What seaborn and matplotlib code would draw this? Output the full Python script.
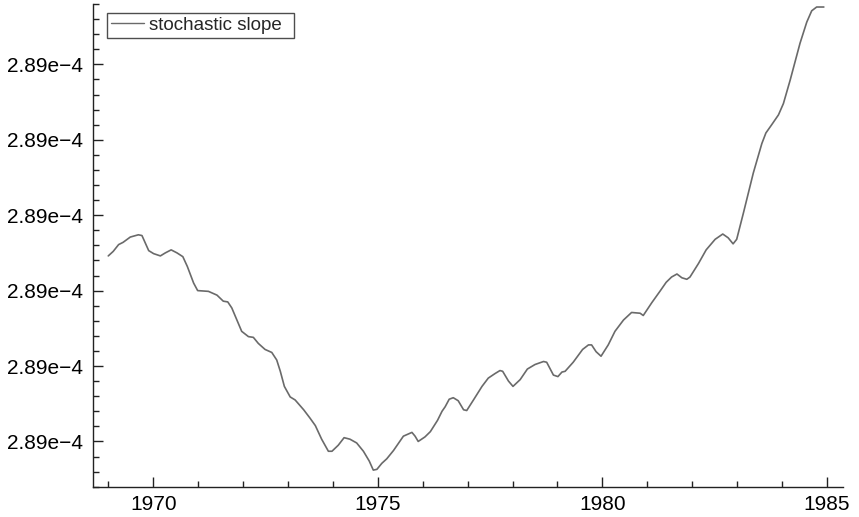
import numpy as np
import pandas as pd
import matplotlib
matplotlib.use("Agg")
import matplotlib.pyplot as plt
from matplotlib.ticker import FixedLocator, AutoMinorLocator, MultipleLocator
import seaborn as sns

years = [1969.00, 1969.11, 1969.23, 1969.33, 1969.49, 1969.67, 1969.75, 1969.90,
         1970.01, 1970.16, 1970.27, 1970.40, 1970.53, 1970.66, 1970.76, 1970.90,
         1970.99, 1971.23, 1971.42, 1971.56, 1971.66, 1971.75, 1971.97, 1972.12,
         1972.23, 1972.34, 1972.49, 1972.64, 1972.75, 1972.83, 1972.92, 1973.05,
         1973.16, 1973.35, 1973.49, 1973.61, 1973.75, 1973.90, 1973.98, 1974.12,
         1974.25, 1974.38, 1974.53, 1974.68, 1974.81, 1974.90, 1974.98, 1975.09,
         1975.20, 1975.35, 1975.57, 1975.76, 1975.83, 1975.90, 1976.05, 1976.17,
         1976.33, 1976.43, 1976.50, 1976.59, 1976.68, 1976.79, 1976.91, 1976.98,
         1977.13, 1977.32, 1977.46, 1977.61, 1977.72, 1977.78, 1977.91, 1978.01,
         1978.17, 1978.33, 1978.50, 1978.69, 1978.76, 1978.91, 1979.01, 1979.10,
         1979.17, 1979.35, 1979.56, 1979.69, 1979.76, 1979.86, 1979.97, 1980.13,
         1980.28, 1980.47, 1980.65, 1980.84, 1980.91, 1981.10, 1981.28, 1981.42,
         1981.54, 1981.66, 1981.77, 1981.88, 1981.95, 1982.14, 1982.31, 1982.51,
         1982.68, 1982.80, 1982.91, 1982.99, 1983.14, 1983.36, 1983.55, 1983.64,
         1983.77, 1983.92, 1984.03, 1984.18, 1984.40, 1984.55, 1984.66, 1984.77,
         1984.93]

slope = [2.8900246e-4, 2.8900252e-4, 2.8900261e-4, 2.8900264e-4, 2.8900271e-4,
         2.8900274e-4, 2.8900273e-4, 2.8900253e-4, 2.8900249e-4, 2.8900246e-4,
         2.8900250e-4, 2.8900254e-4, 2.8900250e-4, 2.8900245e-4, 2.8900232e-4,
         2.8900210e-4, 2.8900200e-4, 2.8900199e-4, 2.8900194e-4, 2.8900186e-4,
         2.8900185e-4, 2.8900177e-4, 2.8900146e-4, 2.8900139e-4, 2.8900138e-4,
         2.8900130e-4, 2.8900122e-4, 2.8900118e-4, 2.8900108e-4, 2.8900093e-4,
         2.8900073e-4, 2.8900059e-4, 2.8900055e-4, 2.8900042e-4, 2.8900031e-4,
         2.8900021e-4, 2.8900003e-4, 2.8899987e-4, 2.8899987e-4, 2.8899995e-4,
         2.8900005e-4, 2.8900003e-4, 2.8899998e-4, 2.8899987e-4, 2.8899974e-4,
         2.8899962e-4, 2.8899963e-4, 2.8899971e-4, 2.8899977e-4, 2.8899988e-4,
         2.8900007e-4, 2.8900012e-4, 2.8900007e-4, 2.8900000e-4, 2.8900006e-4,
         2.8900013e-4, 2.8900028e-4, 2.8900040e-4, 2.8900046e-4, 2.8900056e-4,
         2.8900058e-4, 2.8900054e-4, 2.8900042e-4, 2.8900041e-4, 2.8900055e-4,
         2.8900073e-4, 2.8900084e-4, 2.8900090e-4, 2.8900094e-4, 2.8900093e-4,
         2.8900080e-4, 2.8900073e-4, 2.8900082e-4, 2.8900096e-4, 2.8900102e-4,
         2.8900106e-4, 2.8900105e-4, 2.8900088e-4, 2.8900086e-4, 2.8900092e-4,
         2.8900093e-4, 2.8900105e-4, 2.8900122e-4, 2.8900128e-4, 2.8900128e-4,
         2.8900119e-4, 2.8900113e-4, 2.8900128e-4, 2.8900146e-4, 2.8900161e-4,
         2.8900171e-4, 2.8900170e-4, 2.8900167e-4, 2.8900184e-4, 2.8900199e-4,
         2.8900211e-4, 2.8900218e-4, 2.8900222e-4, 2.8900217e-4, 2.8900215e-4,
         2.8900218e-4, 2.8900236e-4, 2.8900254e-4, 2.8900268e-4, 2.8900275e-4,
         2.8900270e-4, 2.8900262e-4, 2.8900268e-4, 2.8900303e-4, 2.8900356e-4,
         2.8900395e-4, 2.8900409e-4, 2.8900420e-4, 2.8900433e-4, 2.8900448e-4,
         2.8900479e-4, 2.8900528e-4, 2.8900556e-4, 2.8900571e-4, 2.8900576e-4,
         2.8900576e-4]

ytick_values = [2.89000e-4, 2.89001e-4, 2.89002e-4, 2.89003e-4, 2.89004e-4, 2.89005e-4]
ytick_labels = ["2.89e\u22124"] * 6
xtick_values = [1970, 1975, 1980, 1985]
xtick_labels = ["1970", "1975", "1980", "1985"]
series_name = "stochastic slope"

sns.set_style("ticks")
plt.rcParams["font.family"] = ["Liberation Sans", "DejaVu Sans"]

df = pd.DataFrame({"year": years, "value": slope, "series": series_name})

fig = plt.figure(figsize=(8.59, 5.17), dpi=100)
ax = fig.add_axes([93 / 859, 1 - 486.7 / 517, (842.7 - 93) / 859, (486.7 - 4) / 517])

sns.lineplot(data=df, x="year", y="value", hue="series", palette=["#6a6a6a"],
             linewidth=1.2, ax=ax, sort=False)

ax.set_xlim(1968.66, 1985.35)
ax.set_ylim(2.89e-4 - 0.6e-9, 2.89e-4 + 5.8e-9)

ax.xaxis.set_major_locator(FixedLocator(xtick_values))
ax.set_xticklabels(xtick_labels)
ax.xaxis.set_minor_locator(MultipleLocator(1))
ax.yaxis.set_major_locator(FixedLocator(ytick_values))
ax.set_yticklabels(ytick_labels)
ax.yaxis.set_minor_locator(AutoMinorLocator(5))

ax.tick_params(axis="both", which="major", direction="in", length=7, width=1,
               color="#222222", labelsize=15, labelcolor="black")
ax.tick_params(axis="both", which="minor", direction="in", length=4, width=1,
               color="#222222")
ax.tick_params(axis="y", which="major", pad=7)
ax.tick_params(axis="x", which="major", pad=6)

for side in ["top", "right"]:
    ax.spines[side].set_visible(False)
for side in ["left", "bottom"]:
    ax.spines[side].set_color("#222222")
    ax.spines[side].set_linewidth(1.0)

ax.set_xlabel("")
ax.set_ylabel("")

leg = ax.legend(loc="upper left",
                bbox_to_anchor=(107 / 859, 1 - 35.5 / 517, (294 - 107) / 859, 22.5 / 517),
                bbox_transform=fig.transFigure, mode="expand", frameon=True,
                fancybox=False, fontsize=13.5, borderpad=0.2, handlelength=1.75,
                handletextpad=0.3, borderaxespad=0, title=None)
leg.get_frame().set_edgecolor("#222222")
leg.get_frame().set_linewidth(1.0)
for h in leg.get_lines():
    h.set_linewidth(1.0)

fig.savefig("out.png", dpi=100)
